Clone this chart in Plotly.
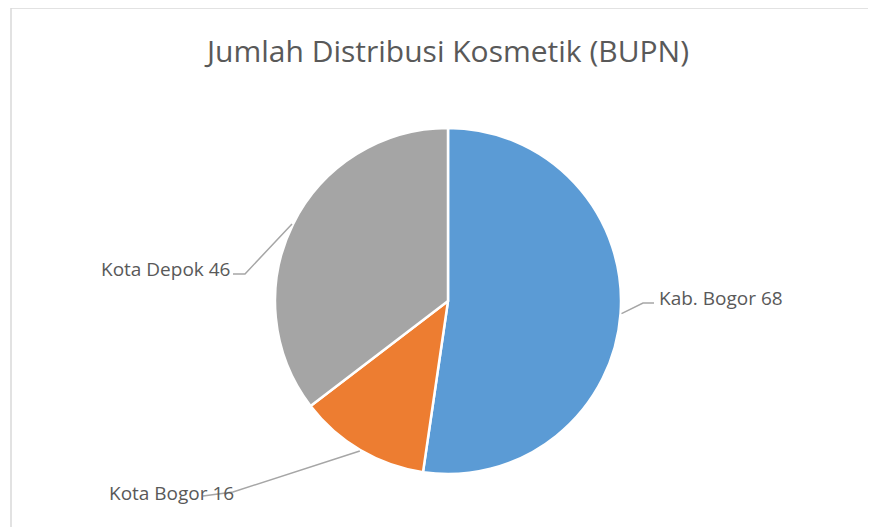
import math
import plotly.graph_objects as go

# ---- data ----
categories = ["Kab. Bogor", "Kota Bogor", "Kota Depok"]
values = [68, 16, 46]
colors = ["#5B9BD5", "#ED7D31", "#A5A5A5"]
title_text = "Jumlah Distribusi Kosmetik (BUPN)"

# page is rendered with an 8px body margin; work in page pixels and shift
OFF = 8
W, H = 876 - OFF, 527 - OFF
CX, CY, R = 448 - OFF, 301 - OFF, 173

# label layout in page pixels (layout only)
label_layout = {
    "Kab. Bogor": dict(elbow=(643, 303), end=(654, 303), text=(657, 298), anchor="left"),
    "Kota Bogor": dict(elbow=(233, 492), end=(203, 496), text=(236, 493), anchor="right"),
    "Kota Depok": dict(elbow=(245, 274), end=(233, 274), text=(232, 269), anchor="right"),
}


def p(v):
    return v - OFF


fig = go.Figure()
fig.add_trace(go.Pie(
    labels=categories, values=values, sort=False, direction="clockwise", rotation=0,
    marker=dict(colors=colors, line=dict(color="white", width=2.5)),
    textinfo="none", showlegend=False,
    domain=dict(x=[(CX - R) / W, (CX + R) / W], y=[(H - CY - R) / H, (H - CY + R) / H]),
))

fig.add_trace(go.Scatter(x=[0, W], y=[0, H], mode="markers", marker=dict(opacity=0),
                         hoverinfo="skip", showlegend=False))

shapes = []
annotations = []
total = sum(values)
cum = 0
for cat, v in zip(categories, values):
    mid = (cum + v / 2) / total * 2 * math.pi
    cum += v
    ex = CX + (R + 1) * math.sin(mid)
    ey = CY - (R + 1) * math.cos(mid)
    L = label_layout[cat]
    (bx, by), (tx, ty) = L["elbow"], L["end"]
    shapes.append(dict(type="path", xref="x", yref="y",
                       path=f"M {ex:.1f} {ey:.1f} L {p(bx)} {p(by)} L {p(tx)} {p(ty)}",
                       line=dict(color="#A6A6A6", width=1.5)))
    annotations.append(dict(x=p(L["text"][0]), y=p(L["text"][1]), xref="x", yref="y",
                            text=f"{cat} {v}", showarrow=False, xanchor=L["anchor"], yanchor="middle",
                            font=dict(family="Open Sans", size=19, color="#595959")))

shapes.append(dict(type="line", xref="x", yref="y", x0=p(11), y0=p(8), x1=W + 5, y1=p(8),
                   line=dict(color="#D9D9D9", width=1.5)))
shapes.append(dict(type="line", xref="x", yref="y", x0=p(11), y0=p(8), x1=p(11), y1=H + 5,
                   line=dict(color="#D9D9D9", width=1.5)))

annotations.append(dict(x=p(446), y=p(50), xref="x", yref="y", text=title_text, showarrow=False,
                        xanchor="center", yanchor="middle",
                        font=dict(family="Open Sans", size=30, color="#595959")))

fig.update_layout(
    width=W, height=H, margin=dict(l=0, r=0, t=0, b=0),
    paper_bgcolor="white", plot_bgcolor="rgba(0,0,0,0)",
    xaxis=dict(range=[0, W], visible=False, fixedrange=True),
    yaxis=dict(range=[H, 0], visible=False, fixedrange=True),
    shapes=shapes, annotations=annotations,
)
fig.write_html("out.html")
